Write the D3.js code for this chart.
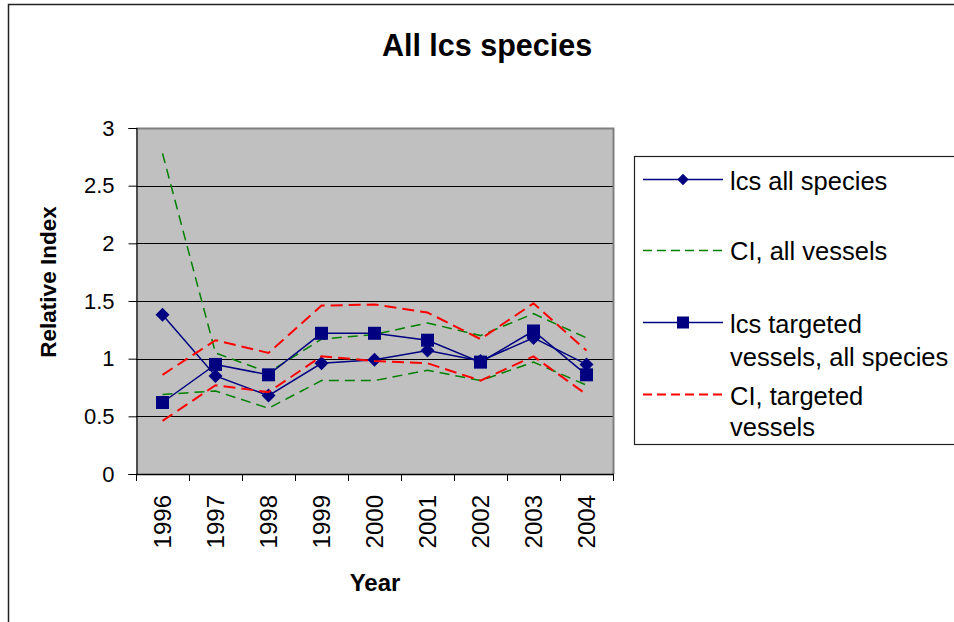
<!DOCTYPE html>
<html>
<head>
<meta charset="utf-8">
<script src="https://cdn.jsdelivr.net/npm/d3@7"></script>
<style>
  html, body { margin: 0; padding: 0; background: #fff; }
  svg { display: block; font-family: "Liberation Sans", Arial, sans-serif; }
</style>
</head>
<body>
<svg id="chart" width="954" height="622"></svg>
<script>
// Survey years (category axis)
const years = ["1996", "1997", "1998", "1999", "2000", "2001", "2002", "2003", "2004"];

// Relative index, all species
const lcsAllSpecies = [1.38, 0.85, 0.68, 0.96, 0.99, 1.07, 0.98, 1.18, 0.95];
// Confidence interval, all vessels (upper / lower)
const ciAllUpper = [2.78, 1.05, 0.88, 1.17, 1.21, 1.31, 1.20, 1.39, 1.18];
const ciAllLower = [0.69, 0.72, 0.57, 0.81, 0.81, 0.90, 0.81, 0.97, 0.77];
// Relative index, targeted vessels, all species
const lcsTargeted = [0.62, 0.95, 0.86, 1.22, 1.22, 1.16, 0.97, 1.24, 0.86];
// Confidence interval, targeted vessels (upper / lower)
const ciTargUpper = [0.86, 1.16, 1.05, 1.46, 1.47, 1.40, 1.17, 1.48, 1.07];
const ciTargLower = [0.46, 0.77, 0.71, 1.02, 0.98, 0.96, 0.81, 1.02, 0.69];

const yTicks = [0, 0.5, 1, 1.5, 2, 2.5, 3];
const legendItems = [
  { lines: ["lcs all species"], kind: "diamond" },
  { lines: ["CI, all vessels"], kind: "green" },
  { lines: ["lcs targeted", "vessels, all species"], kind: "square" },
  { lines: ["CI, targeted", "vessels"], kind: "red" }
];

const svg = d3.select("#chart");
const plot = { left: 136, right: 613, top: 128, bottom: 474 };

const x = d3.scaleBand().domain(years).range([plot.left, plot.right]).padding(0);
const y = d3.scaleLinear().domain([0, 3]).range([plot.bottom, plot.top]);
const cx = d => x(d) + x.bandwidth() / 2;

const navy = "#000080", green = "#008000", red = "#ff0000";

// Outer chart frame
svg.append("rect")
  .attr("x", 8.5).attr("y", 4.5).attr("width", 960).attr("height", 640)
  .attr("fill", "#fff").attr("stroke", "#222").attr("stroke-width", 1.5);

// Title
svg.append("text")
  .attr("x", 487).attr("y", 56)
  .attr("text-anchor", "middle")
  .attr("font-size", 30.5).attr("font-weight", "bold")
  .text("All lcs species");

// Plot background
svg.append("rect")
  .attr("x", plot.left).attr("y", plot.top)
  .attr("width", plot.right - plot.left).attr("height", plot.bottom - plot.top)
  .attr("fill", "#c0c0c0");

// Horizontal gridlines
svg.append("g")
  .selectAll("line")
  .data(yTicks.filter(v => v > 0 && v < 3))
  .join("line")
  .attr("x1", plot.left).attr("x2", plot.right)
  .attr("y1", d => Math.round(y(d)) + 0.5).attr("y2", d => Math.round(y(d)) + 0.5)
  .attr("stroke", "#000").attr("stroke-width", 1);

// Plot area border (top and right)
svg.append("path")
  .attr("d", `M${plot.left},${plot.top + 0.5}H${plot.right + 0.5}V${plot.bottom}`)
  .attr("fill", "none").attr("stroke", "#808080").attr("stroke-width", 2);

// Y axis
const yAxis = d3.axisLeft(y).tickValues(yTicks).tickSize(8).tickPadding(14)
  .tickFormat(d => String(d));
const gy = svg.append("g")
  .attr("transform", `translate(${plot.left + 0.5},0)`)
  .call(yAxis);
gy.select(".domain").attr("stroke", "#000").attr("stroke-width", 1.2);
gy.selectAll(".tick line").attr("stroke", "#000");
gy.selectAll(".tick text")
  .attr("font-size", 22).attr("font-family", "Liberation Sans, Arial, sans-serif")
  .attr("fill", "#000");

// X axis: ticks sit on category boundaries
const boundaries = d3.range(years.length + 1).map(i => plot.left + i * x.bandwidth());
const gx = svg.append("g");
gx.append("line")
  .attr("x1", plot.left).attr("x2", plot.right + 1)
  .attr("y1", plot.bottom + 0.5).attr("y2", plot.bottom + 0.5)
  .attr("stroke", "#000").attr("stroke-width", 1.5);
gx.selectAll("line.tk")
  .data(boundaries)
  .join("line").attr("class", "tk")
  .attr("x1", d => Math.round(d) + 0.5).attr("x2", d => Math.round(d) + 0.5)
  .attr("y1", plot.bottom).attr("y2", plot.bottom + 7)
  .attr("stroke", "#000");
gx.selectAll("text")
  .data(years)
  .join("text")
  .attr("transform", d => `translate(${cx(d)},495) rotate(-90)`)
  .attr("text-anchor", "end")
  .attr("dominant-baseline", "central")
  .attr("font-size", 24)
  .text(d => d);

// Axis titles
svg.append("text")
  .attr("transform", "translate(56,282) rotate(-90)")
  .attr("text-anchor", "middle")
  .attr("font-size", 22.5).attr("font-weight", "bold")
  .text("Relative Index");
svg.append("text")
  .attr("x", 375).attr("y", 591)
  .attr("text-anchor", "middle")
  .attr("font-size", 24).attr("font-weight", "bold")
  .text("Year");

// Series lines
const line = d3.line().x((d, i) => cx(years[i])).y(d => y(d));
function drawLine(values, color, width, dash) {
  svg.append("path")
    .datum(values)
    .attr("d", line)
    .attr("fill", "none")
    .attr("stroke", color)
    .attr("stroke-width", width)
    .attr("stroke-dasharray", dash || null);
}
const diamond = d3.symbol().type(d3.symbolSquare).size(98);
function drawDiamonds(values) {
  svg.append("g").selectAll("path")
    .data(values).join("path")
    .attr("d", diamond)
    .attr("transform", (d, i) => `translate(${cx(years[i])},${y(d)}) rotate(45)`)
    .attr("fill", navy);
}
function drawSquares(values) {
  svg.append("g").selectAll("rect")
    .data(values).join("rect")
    .attr("x", (d, i) => cx(years[i]) - 6.5).attr("y", d => y(d) - 6.5)
    .attr("width", 13).attr("height", 13)
    .attr("fill", navy);
}

drawLine(lcsAllSpecies, navy, 1.5);
drawDiamonds(lcsAllSpecies);
drawLine(ciAllUpper, green, 1.5, "10,6");
drawLine(ciAllLower, green, 1.5, "10,6");
drawLine(lcsTargeted, navy, 1.5);
drawSquares(lcsTargeted);
drawLine(ciTargUpper, red, 2, "12,6");
drawLine(ciTargLower, red, 2, "12,6");

// Legend
const legend = svg.append("g");
legend.append("rect")
  .attr("x", 634.5).attr("y", 156.5).attr("width", 340).attr("height", 288)
  .attr("fill", "#fff").attr("stroke", "#222").attr("stroke-width", 1.2);

const legendLineY = [179.5, 250.5, 322.5, 394.5];
const legendTextY = [[190], [260], [333, 365.5], [405, 436]];

legendItems.forEach((item, i) => {
  const ly = legendLineY[i];
  const g = legend.append("g");
  if (item.kind === "diamond" || item.kind === "square") {
    g.append("line").attr("x1", 643).attr("x2", 723).attr("y1", ly).attr("y2", ly)
      .attr("stroke", navy).attr("stroke-width", 1.5);
    if (item.kind === "diamond") {
      g.append("path").attr("d", d3.symbol().type(d3.symbolSquare).size(64))
        .attr("transform", `translate(683,${ly}) rotate(45)`).attr("fill", navy);
    } else {
      g.append("rect").attr("x", 677).attr("y", ly - 6).attr("width", 12).attr("height", 12)
        .attr("fill", navy);
    }
  } else {
    g.append("line").attr("x1", 643).attr("x2", 723).attr("y1", ly).attr("y2", ly)
      .attr("stroke", item.kind === "green" ? green : red)
      .attr("stroke-width", item.kind === "green" ? 1.5 : 2)
      .attr("stroke-dasharray", "9,5");
  }
  item.lines.forEach((t, j) => {
    g.append("text")
      .attr("x", 730).attr("y", legendTextY[i][j])
      .attr("font-size", 25.5)
      .text(t);
  });
});
</script>
</body>
</html>
